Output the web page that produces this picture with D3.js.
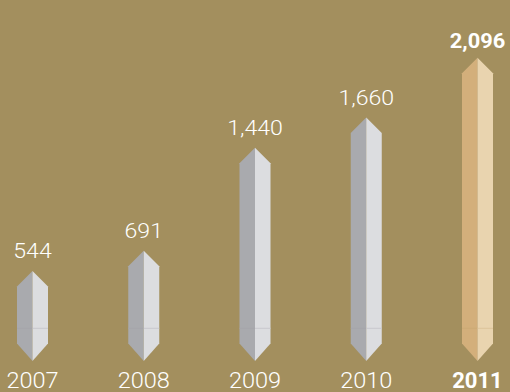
<!DOCTYPE html>
<html><head><meta charset="utf-8">
<script src="https://cdn.jsdelivr.net/npm/d3@7"></script>
<style>html,body{margin:0;padding:0;background:#A38F5E;}svg{display:block;}</style>
</head><body>
<script>
const years = ["2007","2008","2009","2010","2011"];
const values = [544, 691, 1440, 1660, 2096];
const highlight = ["2011"];

const W = 510, H = 392;
const svg = d3.select("body").append("svg").attr("width", W).attr("height", H);
svg.append("rect").attr("width", W).attr("height", H).attr("fill", "#A38F5E");

const x = d3.scalePoint().domain(years).range([32.5, 477.5]);
const y = d3.scaleLinear().domain([0, 2096]).range([345.6, 57.7]);

const half = 15.5, tipTop = 15.5, tipBot = 17.5, baseY = y(0) - 2.2, divY = 328.3;
const data = years.map((yr, i) => ({year: yr, value: values[i], hi: highlight.includes(yr)}));

const g = svg.selectAll("g.bar").data(data).join("g").attr("class", "bar");

g.append("path").attr("fill", d => d.hi ? "#D3AF7B" : "#A9AAAE")
  .attr("d", d => {
    const cx = x(d.year), top = y(d.value);
    return `M${cx},${top} L${cx-half},${top+tipTop} L${cx-half},${baseY} L${cx},${baseY+tipBot} Z`;
  });
g.append("path").attr("fill", d => d.hi ? "#E9D4AF" : "#DCDDE0")
  .attr("d", d => {
    const cx = x(d.year), top = y(d.value);
    return `M${cx},${top} L${cx+half},${top+tipTop} L${cx+half},${baseY} L${cx},${baseY+tipBot} Z`;
  });
g.append("line")
  .attr("x1", d => x(d.year) - half).attr("x2", d => x(d.year))
  .attr("y1", divY).attr("y2", divY)
  .attr("stroke", d => d.hi ? "#CDAA76" : "#A5A6AA").attr("stroke-width", 1);
g.append("line")
  .attr("x1", d => x(d.year)).attr("x2", d => x(d.year) + half)
  .attr("y1", divY).attr("y2", divY)
  .attr("stroke", d => d.hi ? "#DCC39A" : "#C8C9CD").attr("stroke-width", 1);

g.append("text")
  .attr("transform", d => `translate(${x(d.year)},${d.hi ? y(d.value) - 10 : y(d.value) - 13}) scale(${d.hi ? 1.04 : 1.1},1)`)
  .attr("text-anchor", "middle")
  .attr("font-family", "Roboto, 'Liberation Sans', sans-serif")
  .attr("font-weight", d => d.hi ? 700 : 300)
  .attr("font-size", 21)
  .attr("fill", "#FFFFFF")
  .text(d => d3.format(",")(d.value));

g.append("text")
  .attr("transform", d => `translate(${x(d.year)},387.5) scale(${d.hi ? 1.0 : 1.07},1)`)
  .attr("text-anchor", "middle")
  .attr("font-family", "Roboto, 'Liberation Sans', sans-serif")
  .attr("font-weight", d => d.hi ? 700 : 300)
  .attr("font-size", 22)
  .attr("fill", "#FFFFFF")
  .text(d => d.year);
</script>
</body></html>
